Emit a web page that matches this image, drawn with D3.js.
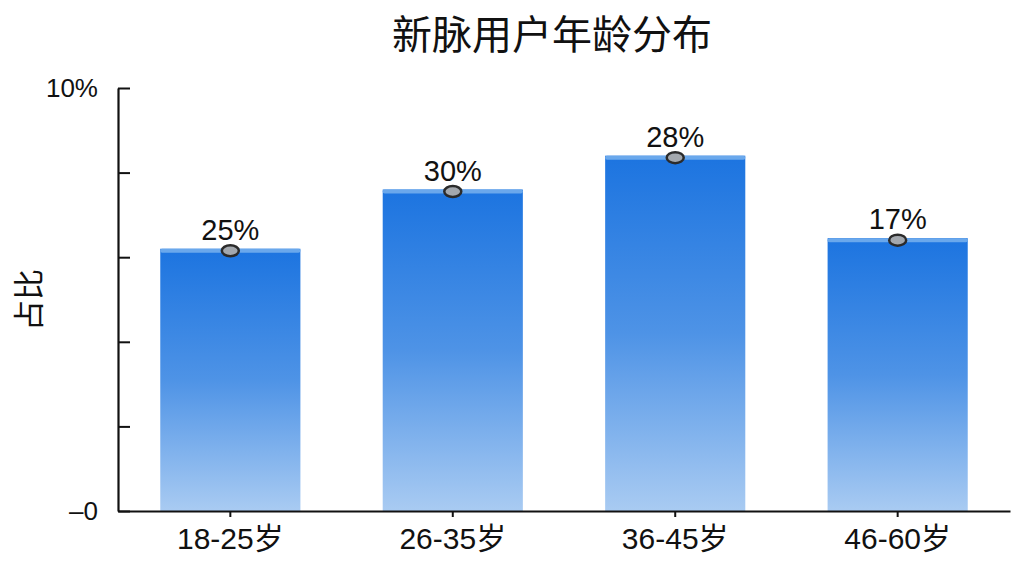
<!DOCTYPE html>
<html>
<head>
<meta charset="utf-8">
<script src="https://cdn.jsdelivr.net/npm/d3@7"></script>
<style>
  body { margin: 0; background: #fff; }
  text { font-family: "Liberation Sans", "Noto Sans CJK SC", sans-serif; }
</style>
</head>
<body>
<div id="chart"></div>
<script>
// data
var categories = ["18-25岁", "26-35岁", "36-45岁", "46-60岁"];
var barValues = [6.2, 7.6, 8.4, 6.45];        // bar heights on the 0-10 axis
var pointLabels = ["25%", "30%", "28%", "17%"]; // text printed above each bar
var yTickValues = [0, 2, 4, 6, 8, 10];
var yTickText = { 0: "–0", 10: "10%" };

var svgWidth = 1024, svgHeight = 576;
var margin = { top: 88, right: 14, bottom: 65, left: 118 };
var chartWidth = svgWidth - margin.left - margin.right;
var chartHeight = svgHeight - margin.top - margin.bottom;

var svg = d3.select("#chart").append("svg")
    .attr("width", svgWidth)
    .attr("height", svgHeight);

// bar gradient
var defs = svg.append("defs");
var grad = defs.append("linearGradient")
    .attr("id", "barGrad")
    .attr("x1", 0).attr("y1", 0).attr("x2", 0).attr("y2", 1);
grad.append("stop").attr("offset", "0%").attr("stop-color", "#1c74e0");
grad.append("stop").attr("offset", "50%").attr("stop-color", "#4e93e6");
grad.append("stop").attr("offset", "100%").attr("stop-color", "#a9cbf2");

var chartGroup = svg.append("g")
    .attr("transform", `translate(${margin.left}, ${margin.top})`);

var yScale = d3.scaleLinear()
    .domain([0, 10])
    .range([chartHeight, 0]);

var xScale = d3.scaleBand()
    .domain(categories)
    .range([0, chartWidth])
    .paddingInner(0.37)
    .paddingOuter(0.19);

// bars
var bars = chartGroup.selectAll(".bar")
    .data(categories)
    .enter()
    .append("g")
    .attr("class", "bar");

bars.append("rect")
    .attr("x", d => xScale(d))
    .attr("y", (d, i) => yScale(barValues[i]))
    .attr("width", xScale.bandwidth())
    .attr("height", (d, i) => chartHeight - yScale(barValues[i]))
    .attr("fill", "url(#barGrad)");

// lighter cap on top of each bar
bars.append("rect")
    .attr("x", d => xScale(d))
    .attr("y", (d, i) => yScale(barValues[i]))
    .attr("width", xScale.bandwidth())
    .attr("height", 4)
    .attr("rx", 2)
    .attr("fill", "#6aa8ec");

// y axis, ticks pointing inward
var yAxis = d3.axisLeft(yScale)
    .tickValues(yTickValues)
    .tickSizeInner(-12)
    .tickSizeOuter(0)
    .tickPadding(20)
    .tickFormat(d => yTickText[d] || "");

var yAxisG = chartGroup.append("g").call(yAxis);
yAxisG.select(".domain").attr("stroke", "#111").attr("stroke-width", 2.2);
yAxisG.selectAll(".tick line").attr("stroke", "#111").attr("stroke-width", 2);
yAxisG.selectAll(".tick text")
    .attr("fill", "#111")
    .style("font-size", "26px");

// x axis
var xAxis = d3.axisBottom(xScale)
    .tickSizeInner(6)
    .tickSizeOuter(0)
    .tickPadding(11);

var xAxisG = chartGroup.append("g")
    .attr("transform", `translate(0, ${chartHeight})`)
    .call(xAxis);
xAxisG.select(".domain").attr("stroke", "#111").attr("stroke-width", 2.2);
xAxisG.selectAll(".tick line").attr("stroke", "#111").attr("stroke-width", 2);
xAxisG.selectAll(".tick text")
    .attr("fill", "#111")
    .style("font-size", "30px");

// markers at bar tops
bars.append("ellipse")
    .attr("cx", d => xScale(d) + xScale.bandwidth() / 2)
    .attr("cy", (d, i) => yScale(barValues[i]) + 2)
    .attr("rx", 8.5)
    .attr("ry", 5.5)
    .attr("fill", "#a3a8ae")
    .attr("stroke", "#2b2b2b")
    .attr("stroke-width", 2.5);

// value labels
bars.append("text")
    .attr("x", d => xScale(d) + xScale.bandwidth() / 2)
    .attr("y", (d, i) => yScale(barValues[i]) - 9)
    .attr("text-anchor", "middle")
    .attr("fill", "#111")
    .style("font-size", "29px")
    .text((d, i) => pointLabels[i]);

// title
svg.append("text")
    .attr("x", 552)
    .attr("y", 49)
    .attr("text-anchor", "middle")
    .attr("fill", "#111")
    .style("font-size", "40px")
    .text("新脉用户年龄分布");

// y axis title
svg.append("text")
    .attr("transform", "translate(40, 300) rotate(-90)")
    .attr("text-anchor", "middle")
    .attr("fill", "#111")
    .style("font-size", "31px")
    .text("占比");
</script>
</body>
</html>
